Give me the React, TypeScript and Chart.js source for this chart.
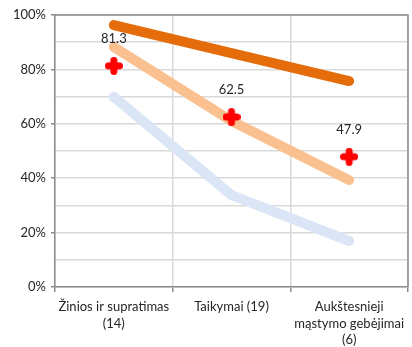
import React, { useEffect, useRef } from "react";
import { Chart, registerables } from "chart.js";

Chart.register(...registerables);

const categories: string[][] = [
  ["Žinios ir supratimas", "(14)"],
  ["Taikymai (19)"],
  ["Aukštesnieji", "mąstymo gebėjimai", "(6)"],
];
const topSeries = [96.3, 86.0, 75.7];
const midSeries = [88.2, 61.0, 39.3];
const lowSeries = [69.9, 33.8, 16.9];
const scoreValues = [81.3, 62.5, 47.9];
const yTickLabels = ["0%", "20%", "40%", "60%", "80%", "100%"];

const FONT = "Lato, 'Open Sans', sans-serif";

function makeMarker(): HTMLCanvasElement {
  const c = document.createElement("canvas");
  c.width = 18;
  c.height = 18;
  const g = c.getContext("2d")!;
  g.strokeStyle = "#FF0000";
  g.fillStyle = "#FF0000";
  g.lineWidth = 7;
  g.lineCap = "round";
  g.beginPath();
  g.moveTo(3.5, 9);
  g.lineTo(14.5, 9);
  g.moveTo(9, 3.5);
  g.lineTo(9, 14.5);
  g.stroke();
  g.beginPath();
  g.moveTo(9, 3.5);
  g.lineTo(14.5, 9);
  g.lineTo(9, 14.5);
  g.lineTo(3.5, 9);
  g.closePath();
  g.fill();
  return c;
}

const frameAndLabels = {
  id: "frameAndLabels",
  afterDatasetsDraw(chart: any) {
    const { ctx, chartArea } = chart;
    ctx.save();
    ctx.strokeStyle = "#8C8C8C";
    ctx.lineWidth = 1.5;
    ctx.beginPath();
    ctx.moveTo(chartArea.left, chartArea.top);
    ctx.lineTo(chartArea.right, chartArea.top);
    ctx.lineTo(chartArea.right, chartArea.bottom);
    ctx.stroke();
    const meta = chart.getDatasetMeta(3);
    ctx.fillStyle = "#262626";
    ctx.font = `13px ${FONT}`;
    ctx.textAlign = "center";
    ctx.textBaseline = "middle";
    meta.data.forEach((pt: any, i: number) => {
      ctx.fillText(String(scoreValues[i]), pt.x, pt.y - 27);
    });
    ctx.restore();
  },
};

export default function App() {
  const ref = useRef<HTMLCanvasElement>(null);
  useEffect(() => {
    document.body.style.margin = "0";
    const marker = makeMarker();
    const lineBase = {
      borderWidth: 10,
      borderCapStyle: "round" as const,
      borderJoinStyle: "round" as const,
      pointRadius: 0,
      tension: 0,
      fill: false,
      clip: false as any,
    };
    const chart = new Chart(ref.current!, {
      type: "line",
      data: {
        labels: categories as any,
        datasets: [
          { ...lineBase, label: "low", data: lowSeries, borderColor: "#DAE5F5", order: 3 },
          { ...lineBase, label: "mid", data: midSeries, borderColor: "#FAC08F", order: 2 },
          { ...lineBase, label: "top", data: topSeries, borderColor: "#E46C0A", order: 1 },
          {
            label: "score",
            data: scoreValues,
            showLine: false,
            pointStyle: marker as any,
            pointRadius: 9,
            borderColor: "#FF0000",
            backgroundColor: "#FF0000",
            order: 0,
            clip: false as any,
          },
        ],
      },
      options: {
        responsive: false,
        animation: false,
        layout: { autoPadding: false, padding: { left: 0, top: 15, right: 4, bottom: 0 } },
        plugins: {
          legend: { display: false },
          tooltip: { enabled: false },
        },
        scales: {
          x: {
            offset: true,
            grid: {
              offset: true,
              color: "#D9D9D9",
              lineWidth: 1.5,
              tickColor: "#8C8C8C",
              tickLength: 5,
            },
            border: { color: "#8C8C8C", width: 1.5 },
            ticks: {
              color: "#262626",
              font: { family: FONT, size: 13, lineHeight: 1.3 },
              padding: 6,
              maxRotation: 0,
              autoSkip: false,
            },
            afterFit: (s: any) => {
              s.height = 60;
              s.paddingLeft = 0;
              s.paddingRight = 0;
            },
          },
          y: {
            min: 0,
            max: 100,
            grid: {
              color: "#D9D9D9",
              lineWidth: 1.5,
              tickLength: 4,
              tickColor: (c: any) =>
                c.tick && Math.round(c.tick.value) % 20 === 0 ? "#8C8C8C" : "rgba(0,0,0,0)",
            },
            border: { color: "#8C8C8C", width: 1.5 },
            ticks: {
              stepSize: 10,
              color: "#262626",
              font: { family: FONT, size: 13 },
              padding: 5,
              callback: (v: any) => {
                const n = Math.round(Number(v));
                return n % 20 === 0 ? yTickLabels[n / 20] : "";
              },
            },
            afterFit: (s: any) => {
              s.width = 55;
              s.paddingTop = 0;
              s.paddingBottom = 0;
            },
          },
        },
      },
      plugins: [frameAndLabels],
    });
    return () => chart.destroy();
  }, []);
  return (
    <div style={{ width: 412, height: 347 }}>
      <canvas ref={ref} width={412} height={347} />
    </div>
  );
}
